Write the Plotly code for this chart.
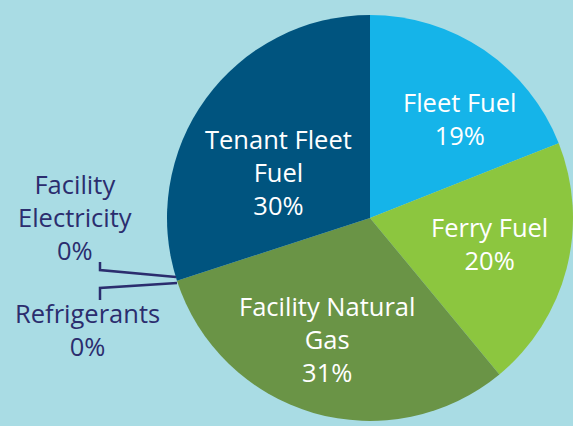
import plotly.graph_objects as go

# Data
labels = ["Fleet Fuel", "Ferry Fuel", "Facility Natural Gas", "Refrigerants",
          "Facility Electricity", "Tenant Fleet Fuel"]
display_labels = ["Fleet Fuel", "Ferry Fuel", "Facility Natural<br>Gas", "Refrigerants",
                  "Facility<br>Electricity", "Tenant Fleet<br>Fuel"]
values = [19, 20, 31, 0, 0, 30]
colors = ["#15b4e9", "#8cc63f", "#6a9446", "#6a9446", "#00547f", "#00547f"]

W, H = 573, 426
cx, cy, r = 370, 218, 203

fig = go.Figure(go.Pie(
    labels=labels, values=values, sort=False, direction="clockwise", rotation=0,
    marker=dict(colors=colors, line=dict(width=0)),
    textinfo="none", hoverinfo="label+percent", showlegend=False,
    domain=dict(x=[(cx - r) / W, 1], y=[(H - cy - r) / H, (H - cy + r) / H]),
))

FONT = "Open Sans"
FS = 25.5
# in-slice label positions (pixels, centre of text block)
inside_pos = {0: (460, 119), 1: (489, 243), 2: (327, 339), 5: (278, 172)}
outside_pos = {3: (87, 329), 4: (75, 217)}

annotations = []
for i, (x, y) in inside_pos.items():
    annotations.append(dict(
        x=x / W, y=1 - y / H, xref="paper", yref="paper", showarrow=False,
        xanchor="center", yanchor="middle",
        text=f"{display_labels[i]}<br>{values[i]}%",
        font=dict(family=FONT, size=FS, color="white"), align="center",
    ))
for i, (x, y) in outside_pos.items():
    annotations.append(dict(
        x=x / W, y=1 - y / H, xref="paper", yref="paper", showarrow=False,
        xanchor="center", yanchor="middle",
        text=f"{display_labels[i]}<br>{values[i]}%",
        font=dict(family=FONT, size=FS, color="#2b2d6e"), align="center",
    ))

line_col = "#2b2d6e"
leader_lines = [
    [(100, 262), (100, 270), (176, 277)],
    [(100, 300), (100, 288), (177, 283)],
]
shapes = []
for pts in leader_lines:
    path = "M " + " L ".join(f"{x / W},{1 - y / H}" for x, y in pts)
    shapes.append(dict(type="path", xref="paper", yref="paper", path=path,
                       line=dict(color=line_col, width=2.5)))

fig.update_layout(
    width=W, height=H, margin=dict(l=0, r=0, t=0, b=0),
    paper_bgcolor="#a9dce4", plot_bgcolor="#a9dce4",
    annotations=annotations, shapes=shapes,
    font=dict(family=FONT),
)

fig.write_html("out.html", config={"displayModeBar": False},
               post_script="document.body.style.margin='0';")
